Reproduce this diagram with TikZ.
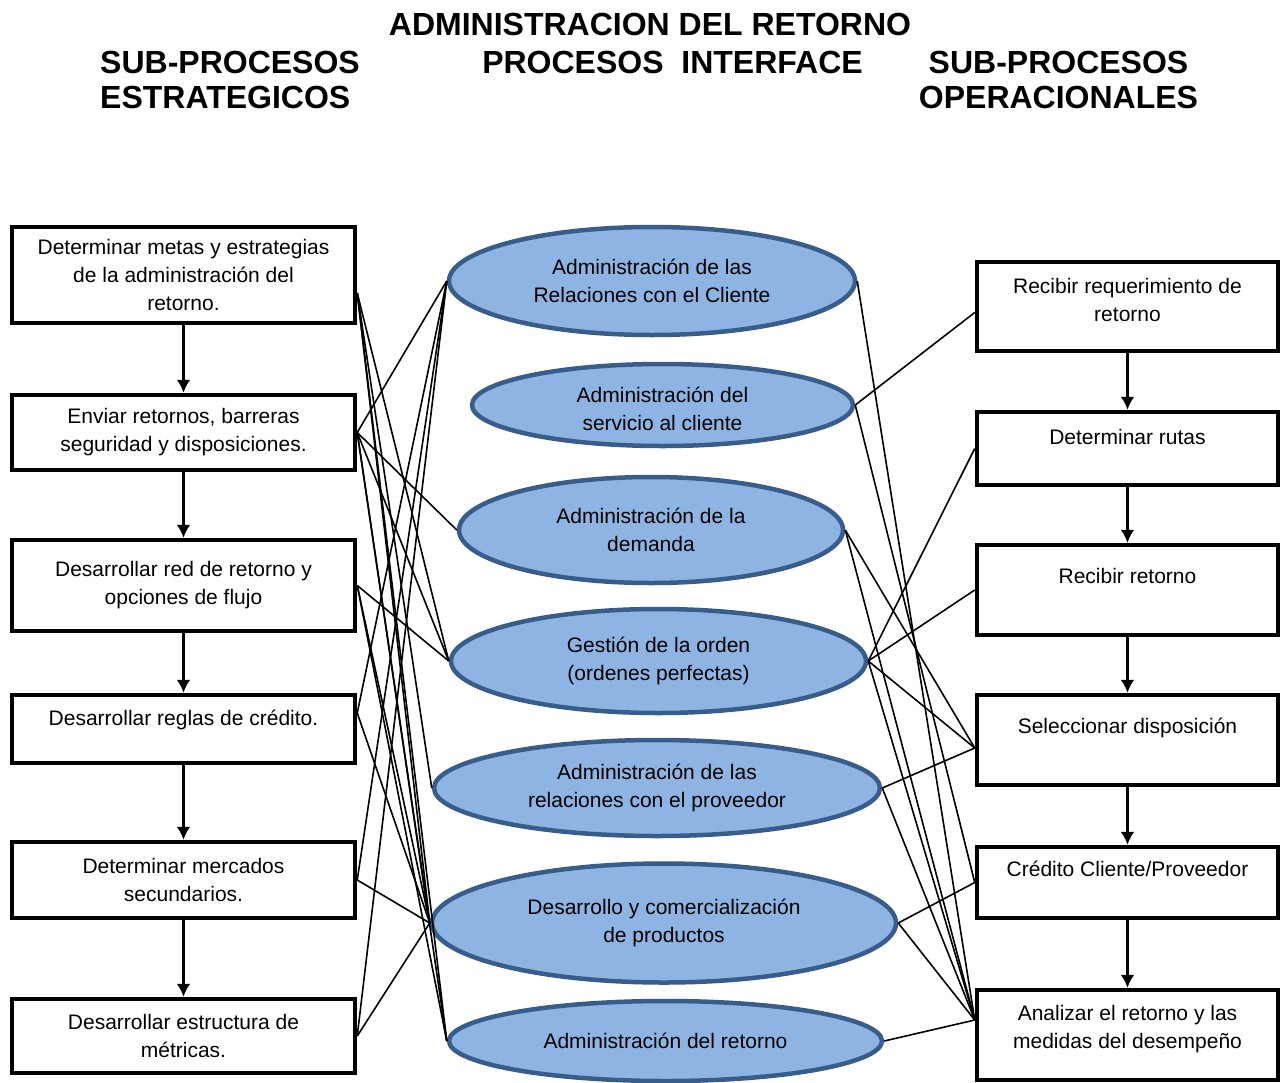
\documentclass[tikz,border=0pt]{standalone}
\usepackage{fontspec}
\setmainfont{Liberation Sans}
\usetikzlibrary{positioning,shapes.geometric,arrows.meta}
\definecolor{ProcBlue}{HTML}{8DB4E2}
\definecolor{ProcEdge}{HTML}{385D8A}

\begin{document}
\begin{tikzpicture}[x=1pt,y=-1pt,
    subproc/.style={draw=black,line width=4.5pt,fill=white,inner sep=0pt,
      minimum width=343pt,align=center,font=\fontsize{21}{28}\selectfont},
    opproc/.style={subproc,minimum width=301pt},
    toptext/.style={text depth=#1},
    interface/.style={ellipse,draw=ProcEdge,line width=4.5pt,fill=ProcBlue,
      inner sep=0pt,align=center,font=\fontsize{21}{28}\selectfont},
    head/.style={font=\fontsize{32}{35}\selectfont\bfseries,inner sep=0pt},
    arrow/.style={-{Latex[length=13pt,width=14pt]},line width=3.5pt},
    link/.style={line width=1.6pt}
  ]
    \useasboundingbox[fill=white] (0,0) rectangle (1285,1082);

    % titles
    \node[head] (titulo) at (650,24) {ADMINISTRACION DEL RETORNO};
    \node[head,align=left,anchor=west] (estrat) at (100,79.5) {SUB-PROCESOS\\ESTRATEGICOS};
    \node[head] (interf) at (672.5,62) {PROCESOS~~INTERFACE};
    \node[head,align=center] (operac) at (1058.5,79.5) {SUB-PROCESOS\\OPERACIONALES};

    % strategic sub-processes
    \node[subproc,minimum height=96pt] (l1) at (183.5,275) {Determinar metas y estrategias\\de la administración del\\retorno.};
    \node[subproc,minimum height=75pt] (l2) at (183.5,432.5) {Enviar retornos, barreras\\seguridad y disposiciones.};
    \node[subproc,minimum height=91pt] (l3) at (183.5,585.5) {Desarrollar red de retorno y\\opciones de flujo};
    \node[subproc,minimum height=68pt,toptext=22pt] (l4) at (183.5,729) {Desarrollar reglas de crédito.};
    \node[subproc,minimum height=76pt] (l5) at (183.5,880) {Determinar mercados\\secundarios.};
    \node[subproc,minimum height=74pt] (l6) at (183.5,1036) {Desarrollar estructura de\\métricas.};

    % interface processes
    \node[interface,minimum width=406pt,minimum height=108pt] (e1) at (652,281) {Administración de las\\Relaciones con el Cliente};
    \node[interface,minimum width=381pt,minimum height=82pt] (e2) at (662.5,405) {\rule{0pt}{23pt}Administración del\\servicio al cliente};
    \node[interface,minimum width=384pt,minimum height=106pt] (e3) at (651,530) {Administración de la\\demanda};
    \node[interface,minimum width=415pt,minimum height=104pt] (e4) at (658.5,661) {Gestión de la orden\\(ordenes perfectas)};
    \node[interface,minimum width=446pt,minimum height=96pt] (e5) at (657,788) {Administración de las\\relaciones con el proveedor};
    \node[interface,minimum width=464pt,minimum height=119pt] (e6) at (664,923) {Desarrollo y comercialización\\de productos};
    \node[interface,minimum width=433pt,minimum height=80pt] (e7) at (665.5,1041) {Administración del retorno};

    % operational sub-processes
    \node[opproc,minimum height=89pt,toptext=14pt] (r1) at (1127.5,306.5) {Recibir requerimiento de\\retorno};
    \node[opproc,minimum height=73pt,toptext=23pt] (r2) at (1127.5,448.5) {Determinar rutas};
    \node[opproc,minimum height=90pt,toptext=28pt] (r3) at (1127.5,590) {Recibir retorno};
    \node[opproc,minimum height=90pt,toptext=28pt] (r4) at (1127.5,740) {Seleccionar disposición};
    \node[opproc,minimum height=71pt,toptext=27pt] (r5) at (1127.5,882.5) {Crédito Cliente/Proveedor};
    \node[opproc,minimum height=90pt,toptext=16pt] (r6) at (1127.5,1035) {Analizar el retorno y las\\medidas del desempeño};

    % sequence arrows
    \draw[arrow] (l1) -- (l2);
    \draw[arrow] (l2) -- (l3);
    \draw[arrow] (l3) -- (l4);
    \draw[arrow] (l4) -- (l5);
    \draw[arrow] (l5) -- (l6);
    \draw[arrow] (r1) -- (r2);
    \draw[arrow] (r2) -- (r3);
    \draw[arrow] (r3) -- (r4);
    \draw[arrow] (r4) -- (r5);
    \draw[arrow] (r5) -- (r6);

    % links strategic - interface
    \draw[link] ([yshift=-18pt]l1.east) -- (e4.west);
    \draw[link] ([yshift=-18pt]l1.east) -- (e5.west);
    \draw[link] ([yshift=-18pt]l1.east) -- (e6.west);
    \draw[link] ([yshift=-18pt]l1.east) -- (e7.west);
    \draw[link] (l2.east) -- (e1.west);
    \draw[link] (l2.east) -- (e3.west);
    \draw[link] (l2.east) -- (e4.west);
    \draw[link] (l2.east) -- (e6.west);
    \draw[link] (l2.east) -- (e7.west);
    \draw[link] (l3.east) -- (e4.west);
    \draw[link] (l3.east) -- (e6.west);
    \draw[link] (l3.east) -- (e7.west);
    \draw[link] ([yshift=16pt]l4.east) -- (e1.west);
    \draw[link] ([yshift=16pt]l4.east) -- (e6.west);
    \draw[link] (l5.east) -- (e1.west);
    \draw[link] (l5.east) -- (e6.west);
    \draw[link] (l6.east) -- (e1.west);
    \draw[link] (l6.east) -- (e6.west);

    % links interface - operational
    \draw[link] (e1.east) -- ([yshift=15pt]r6.west);
    \draw[link] (e2.east) -- ([yshift=-6pt]r1.west);
    \draw[link] (e2.east) -- (r5.west);
    \draw[link] (e3.east) -- ([yshift=-8pt]r4.west);
    \draw[link] (e3.east) -- ([yshift=15pt]r6.west);
    \draw[link] (e4.east) -- (r2.west);
    \draw[link] (e4.east) -- (r3.west);
    \draw[link] (e4.east) -- ([yshift=-8pt]r4.west);
    \draw[link] (e4.east) -- ([yshift=15pt]r6.west);
    \draw[link] (e5.east) -- ([yshift=-8pt]r4.west);
    \draw[link] (e5.east) -- ([yshift=15pt]r6.west);
    \draw[link] (e6.east) -- (r5.west);
    \draw[link] (e6.east) -- ([yshift=15pt]r6.west);
    \draw[link] (e7.east) -- ([yshift=15pt]r6.west);
  \end{tikzpicture}
\end{document}
